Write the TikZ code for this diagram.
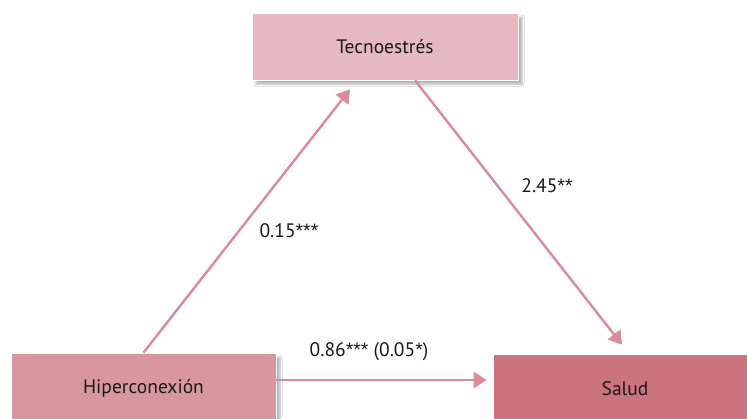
\documentclass[tikz,border=0pt]{standalone}
\usepackage{fontspec}
\setmainfont{PT Sans}
\newfontfamily\astfont{Liberation Sans}
\newcommand{\myast}{{\astfont*}}
\usetikzlibrary{shadows.blur,calc,arrows.meta}
\definecolor{tecfill}{HTML}{E6B8C0}
\definecolor{hipfill}{HTML}{D8979E}
\definecolor{salfill}{HTML}{CB737F}
\definecolor{arrcol}{HTML}{D98C97}
\definecolor{txt}{HTML}{1A1A1A}
\tikzset{
  box/.style={draw=white, line width=0.8pt, minimum width=266pt, minimum height=67pt, inner sep=0pt,
    font=\fontsize{19.5}{22}\selectfont, text=txt,
    blur shadow={shadow xshift=4pt, shadow yshift=-4pt, shadow blur steps=6, shadow opacity=30}},
  arr/.style={draw=arrcol, line width=2.4pt, -{Triangle[length=13pt,width=16pt]}},
  lbl/.style={font=\fontsize{19.5}{22}\selectfont, text=txt, inner sep=0pt}
}
\begin{document}
\begin{tikzpicture}[x=1pt,y=-1pt]
\useasboundingbox (0,0) rectangle (747,418);
\fill[white] (0,0) rectangle (747,418);
\node[box, fill=tecfill] (tec) at (385,46.5) {Tecnoestrés};
\node[box, fill=hipfill, minimum width=265pt, minimum height=70pt] (hip) at (143.5,388) {Hiperconexión};
\node[box, fill=salfill, minimum width=264pt, minimum height=70pt] (sal) at (625,389) {Salud};
\draw[arr] (hip.north) -- ([xshift=-35pt,yshift=-9pt]tec.south);
\draw[arr] ([xshift=30pt]tec.south) -- ([xshift=-3pt,yshift=9pt]sal.north);
\draw[arr] ([yshift=8pt]hip.east) -- ([xshift=-6pt,yshift=9pt]sal.west);
\node[lbl] (l1) at (289,231) {0.15\myast\myast\myast};
\node[lbl] (l2) at (547,186) {2.45\myast\myast};
\node[lbl] (l3) at (369,352) {0.86\myast\myast\myast{} (0.05\myast)};
\end{tikzpicture}
\end{document}
